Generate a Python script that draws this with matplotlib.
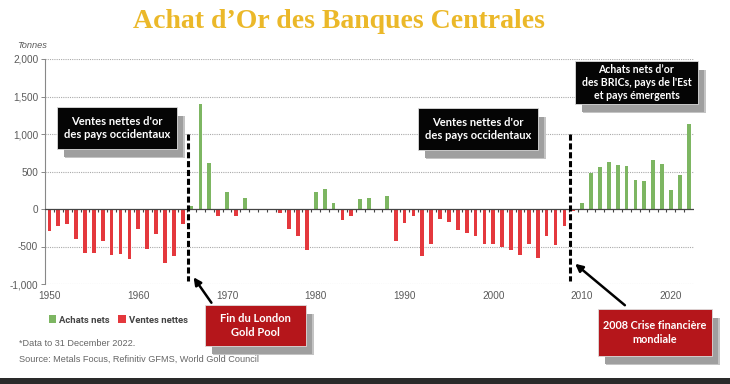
import matplotlib
matplotlib.use('Agg')
import matplotlib.pyplot as plt
from matplotlib.patches import Rectangle, Patch

# ---------------- data ----------------
years = list(range(1950, 2023))
values = [-288, -230, -204, -398, -588, -584, -429, -611, -606, -668,
          -265, -531, -327, -721, -624, -195, 40, 1394, 611, -88,
          230, -97, 150, 0, -13, -5, -53, -265, -363, -540,
          230, 270, 84, -142, -88, 128, 142, -18, 177, -429,
          -190, -97, -620, -465, -133, -168, -279, -323, -363, -473,
          -473, -513, -540, -615, -473, -659, -358, -482, -230, -25,
          80, 478, 566, 624, 593, 571, 389, 376, 655, 602,
          257, 451, 1128]
y_ticks = [-1000, -500, 0, 500, 1000, 1500, 2000]
y_labels = ['-1,000', '-500', '0', '500', '1,000', '1,500', '2,000']
x_ticks = [1950, 1960, 1970, 1980, 1990, 2000, 2010, 2020]
x_labels = ['1950', '1960', '1970', '1980', '1990', '2000', '2010', '2020']
event_years = [1965.63, 2008.65]
legend_labels = ['Achats nets', 'Ventes nettes']

title = "Achat d\u2019Or des Banques Centrales"
box_west = "Ventes nettes d'or\ndes pays occidentaux"
box_brics = "Achats nets d\u2019or\ndes BRICs, pays de l'Est\net pays \u00e9mergents"
box_london = "Fin du London\nGold Pool"
box_crisis = "2008 Crise financi\u00e8re\nmondiale"

GREEN = '#7DB662'
RED = '#E4383D'
GRAY = '#5a5a5a'

W, H = 730, 384
fig = plt.figure(figsize=(W / 100, H / 100), dpi=100)
fig.patch.set_facecolor('white')


def fx(x):
    return x / W


def fy(y):
    return 1 - y / H


ax = fig.add_axes([fx(44.5), fy(284), fx(694) - fx(44.5), fy(59) - fy(284)])
colors = [GREEN if v >= 0 else RED for v in values]
ax.bar(years, values, width=0.42, color=colors, zorder=3)

ax.set_xlim(1949.44, 2022.6)
ax.set_ylim(-1000, 2000)
ax.set_yticks(y_ticks)
ax.set_yticklabels(y_labels)
ax.set_xticks(x_ticks)
ax.set_xticklabels(x_labels)
ax.tick_params(axis='y', length=3, width=0.7, color='#888', labelsize=7.2,
               labelcolor=GRAY, pad=1.5)
ax.tick_params(axis='x', length=0, labelsize=7.2, labelcolor=GRAY, pad=5)
for lab in ax.get_xticklabels() + ax.get_yticklabels():
    lab.set_family('Liberation Sans')

for s in ['top', 'right', 'bottom']:
    ax.spines[s].set_visible(False)
ax.spines['left'].set_color('#888')
ax.spines['left'].set_linewidth(0.8)

for t in y_ticks:
    if t != 0:
        ax.axhline(t, color='#aaaaaa', lw=0.8, ls=(0, (1, 1)), zorder=1)
ax.axhline(0, color='#444', lw=0.9, zorder=4)

# minor ticks on zero line (year boundaries)
frac0 = (0 - (-1000)) / 3000
sec = ax.secondary_xaxis(frac0)
sec.set_xticks([y + 0.5 for y in years[:-1]])
sec.tick_params(length=2.5, width=0.8, color='#444', labelbottom=False,
                labeltop=False)
sec.spines['bottom'].set_visible(False)
sec.spines['top'].set_visible(False)

# dashed event lines
for ey in event_years:
    ax.plot([ey, ey], [1000, -960], color='black', lw=2.2,
            dashes=(2.0, 0.9), zorder=5)

# ---------- annotation boxes ----------
def box(x0, y0, x1, y1, fc, text, fs, shadow=(7, 8)):
    sx, sy = shadow
    fig.add_artist(Rectangle((fx(x0 + sx + 1), fy(y1 + sy + 1)), (x1 - x0) / W,
                             (y1 - y0) / H, transform=fig.transFigure,
                             facecolor='#c4c4c4', edgecolor='none', zorder=6))
    fig.add_artist(Rectangle((fx(x0 + sx), fy(y1 + sy)), (x1 - x0 - 1) / W,
                             (y1 - y0 - 1) / H, transform=fig.transFigure,
                             facecolor='#9f9f9f', edgecolor='none', zorder=6))
    fig.add_artist(Rectangle((fx(x0), fy(y1)), (x1 - x0) / W, (y1 - y0) / H,
                             transform=fig.transFigure, facecolor=fc,
                             edgecolor='#dddddd', lw=0.6, zorder=7))
    fig.text(fx((x0 + x1) / 2), fy((y0 + y1) / 2), text, ha='center',
             va='center', color='white', fontsize=fs, fontweight='bold',
             family='Lato', linespacing=1.25, zorder=8)


box(57, 107, 177, 149, '#050505', box_west, 8.0)
box(418, 108, 538, 150, '#050505', box_west, 8.0)
box(575, 61, 698, 104, '#050505', box_brics, 7.6)
box(205, 305, 306, 346, '#B5161B', box_london, 8.0)
box(598, 309, 712, 356, '#B5161B', box_crisis, 7.8)

# arrows
for (tx, ty), (hx, hy) in [((213, 305), (192, 275)), ((627, 307), (573, 262))]:
    fig.add_artist(matplotlib.patches.FancyArrowPatch(
        (fx(tx), fy(ty)), (fx(hx), fy(hy)), transform=fig.transFigure,
        arrowstyle='-|>', mutation_scale=11, lw=1.8, color='black', zorder=9))

# title and texts
fig.text(fx(339), fy(28), title, ha='center', va='baseline', fontsize=20,
         fontweight='bold', family='Liberation Serif', color='#EBB829')
fig.text(fx(17), fy(46), 'Tonnes', ha='left', va='center', fontsize=6.7,
         style='italic', color=GRAY, family='Liberation Sans')
fig.text(fx(19), fy(343), '*Data to 31 December 2022.', ha='left',
         va='center', fontsize=6.6, color='#666', family='Liberation Sans')
fig.text(fx(19), fy(359), 'Source: Metals Focus, Refinitiv GFMS, World Gold Council',
         ha='left', va='center', fontsize=6.6, color='#666',
         family='Liberation Sans')

handles = [Patch(facecolor=GREEN, edgecolor='none'),
           Patch(facecolor=RED, edgecolor='none')]
leg = fig.legend(handles, legend_labels, loc='center left',
                 bbox_to_anchor=(fx(40), fy(320)), ncol=2, frameon=False,
                 handlelength=0.75, handleheight=0.9, handletextpad=0.4,
                 columnspacing=0.9, prop={'family': 'Roboto', 'weight': 'bold',
                                          'size': 6.8})
for t in leg.get_texts():
    t.set_color('#444')

# bottom dark band
fig.add_artist(Rectangle((0, 0), 1, 6 / H, transform=fig.transFigure,
                         facecolor='#2a2a2a', edgecolor='none'))

fig.savefig('out.png', dpi=100)
